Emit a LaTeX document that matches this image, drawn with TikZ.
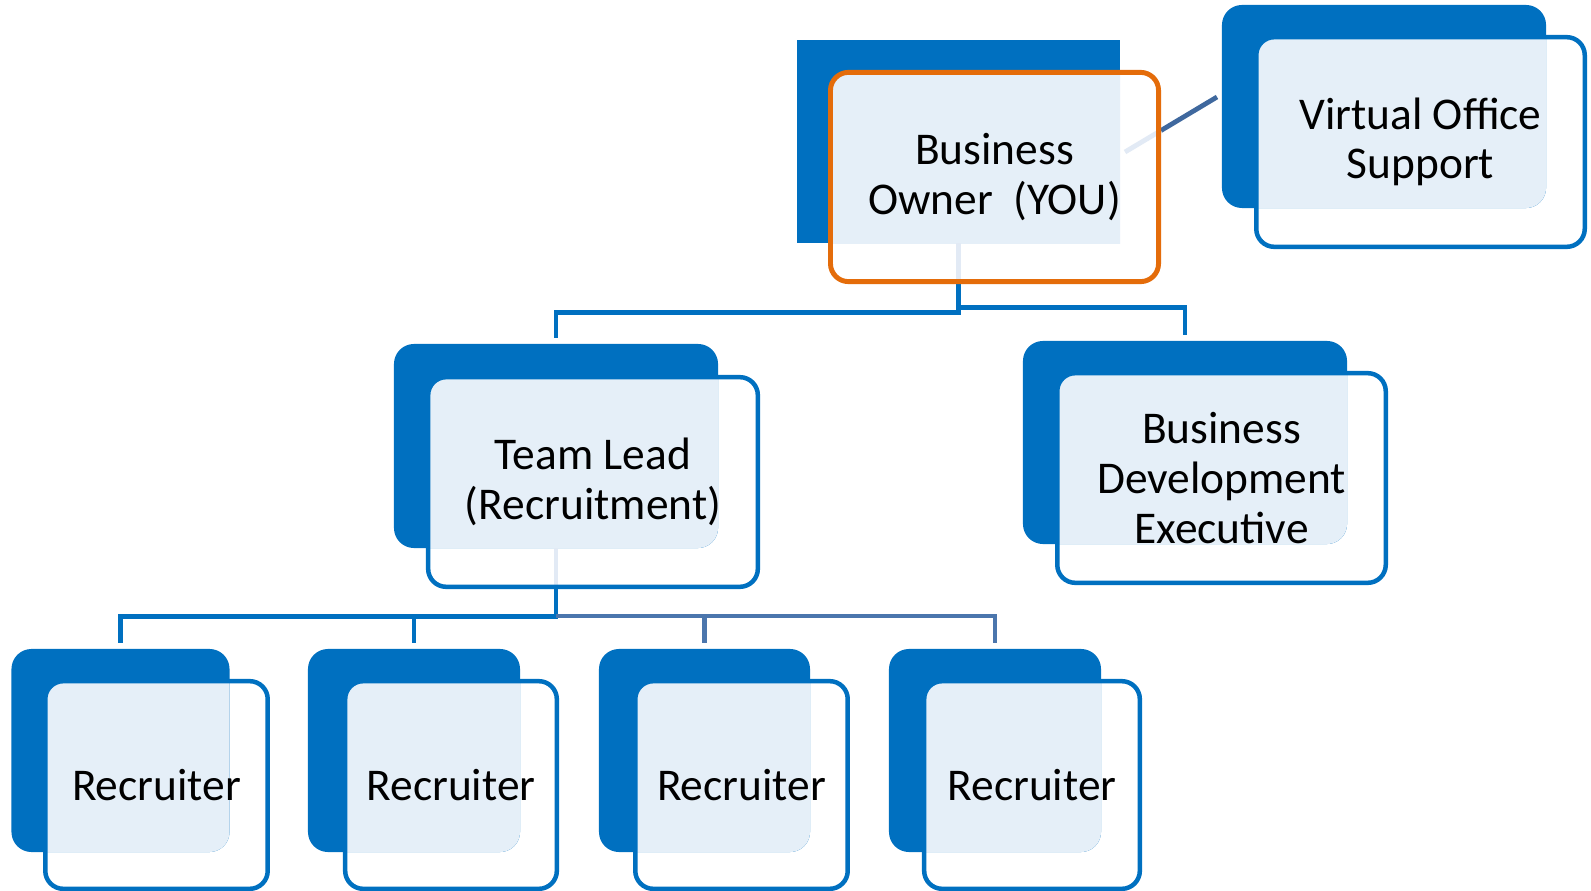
\documentclass[tikz,border=0pt]{standalone}
\usepackage{fontspec}
\setmainfont{Carlito}
\usetikzlibrary{backgrounds}

\definecolor{boxblue}{RGB}{0,112,192}
\definecolor{boxlight}{RGB}{229,239,248}
\definecolor{boxorange}{RGB}{228,108,10}
\definecolor{linksteel}{RGB}{75,118,173}
\definecolor{linkdark}{RGB}{63,104,158}
\definecolor{linkpale}{RGB}{226,234,245}

\tikzset{
    frontbox/.style={rectangle, rounded corners=0.45cm, draw=boxblue, line width=3.2pt,
        inner sep=0pt, outer sep=0pt, align=center, font=\fontsize{32.3}{35.4}\selectfont},
    backbox/.style={rectangle, rounded corners=0.5cm, fill=boxblue, inner sep=0pt, outer sep=0pt},
    lightpart/.style={path picture={\fill[boxlight, rounded corners=0.45cm] (#1.south west) rectangle (#1.north east);}},
    link/.style={draw=boxblue, line width=3.4pt},
    steellink/.style={draw=linksteel, line width=3.1pt},
}

\begin{document}
\begin{tikzpicture}[x=0.025cm, y=-0.025cm]
\useasboundingbox (0,0) rectangle (1591,891);

\begin{scope}[every node/.style={frontbox}]
    \node (owner) at (994.5,177) [draw=boxorange, line width=3.5pt, minimum width=8.2cm, minimum height=5.23cm] {Business\\Owner\ \ (YOU)};
    \node (voffice) at (1420.5,142) [minimum width=8.21cm, minimum height=5.24cm] {Virtual Office\\Support};

    \node (lead) at (593,482) [minimum width=8.24cm, minimum height=5.24cm] {Team Lead\\(Recruitment)};
    \node (bde) at (1221.5,478) [minimum width=8.21cm, minimum height=5.24cm] {Business\\Development\\Executive};

    \node (rec1) at (156.5,785) [minimum width=5.56cm, minimum height=5.19cm] {Recruiter};
    \node (rec2) at (451,785) [minimum width=5.29cm, minimum height=5.19cm] {Recruiter};
    \node (rec3) at (741.5,785) [minimum width=5.31cm, minimum height=5.19cm] {Recruiter};
    \node (rec4) at (1032,785) [minimum width=5.39cm, minimum height=5.19cm] {Recruiter};
\end{scope}

\coordinate (assistA) at (1125,152);
\coordinate (assistB) at (1161,130.5);
\coordinate (assistC) at (1217,97);

\begin{scope}[on background layer, every node/.style={backbox}]
    \fill[white] (0,0) rectangle (1591,891);

    \node (ownerB) at (958.5,141.5) [sharp corners, lightpart=owner, minimum width=8.075cm, minimum height=5.075cm] {};
    \node (vofficeB) at (1384,106.5) [lightpart=voffice, minimum width=8.1cm, minimum height=5.075cm] {};

    \node (leadB) at (556,446) [lightpart=lead, minimum width=8.1cm, minimum height=5.1cm] {};
    \node (bdeB) at (1185,442.5) [lightpart=bde, minimum width=8.1cm, minimum height=5.075cm] {};

    \node (rec1B) at (120.5,750.5) [lightpart=rec1, minimum width=5.45cm, minimum height=5.075cm] {};
    \node (rec2B) at (414,750.5) [lightpart=rec2, minimum width=5.3cm, minimum height=5.075cm] {};
    \node (rec3B) at (704.5,750.5) [lightpart=rec3, minimum width=5.275cm, minimum height=5.075cm] {};
    \node (rec4B) at (995,750.5) [lightpart=rec4, minimum width=5.3cm, minimum height=5.075cm] {};

    % connectors, under the front outlines
    \draw[link, draw=linkpale] (ownerB.south) -- (ownerB.south |- owner.south);
    \draw[link, draw=linkpale] (leadB.south) -- (leadB.south |- lead.south);
    \draw[link, draw=linkpale] (assistA) -- (assistB);
    \draw[link, draw=linkdark] (assistB) -- (assistC);

    \draw[link, shorten >=0.15cm] (ownerB.south |- owner.south) -- ++(0,31) -| (leadB.north);
    \draw[link, shorten >=0.15cm] (ownerB.south |- owner.south) -- ++(0,26) -| (bdeB.north);

    \draw[link, shorten >=0.15cm] (leadB.south |- lead.south) -- ++(0,30) -| (rec1B.north);
    \draw[link, shorten >=0.15cm] (leadB.south |- lead.south) -- ++(0,30) -| (rec2B.north);
    \draw[steellink, shorten >=0.15cm] (leadB.south |- lead.south) ++(0,29) -| (rec3B.north);
    \draw[steellink, shorten >=0.15cm] (leadB.south |- lead.south) ++(0,29) -| (rec4B.north);
\end{scope}
\end{tikzpicture}
\end{document}
